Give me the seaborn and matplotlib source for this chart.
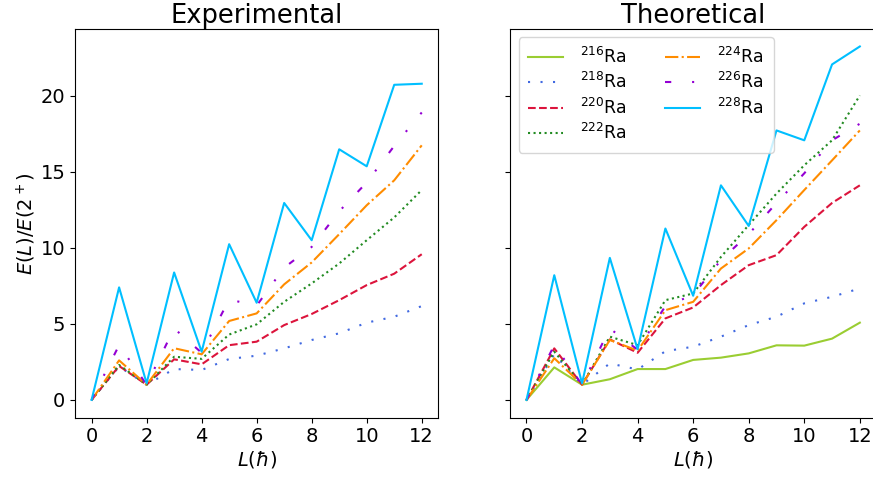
import numpy as np
import pandas as pd
import matplotlib
matplotlib.use("Agg")
import matplotlib.pyplot as plt
import seaborn as sns

L = list(range(13))
isotopes = ["216", "218", "220", "222", "224", "226", "228"]

# Experimental E(L)/E(2+)
exp_218 = [0, 2.2, 1.0, 2.03, 1.97, 2.69, 2.91, 3.39, 3.94, 4.38, 5.08, 5.47, 6.17]
exp_220 = [0, 2.23, 1.0, 2.67, 2.34, 3.6, 3.83, 4.92, 5.65, 6.56, 7.55, 8.3, 9.58]
exp_222 = [0, 2.3, 1.0, 2.84, 2.7, 4.3, 4.97, 6.45, 7.66, 8.97, 10.5, 12.0, 13.8]
exp_224 = [0, 2.6, 1.0, 3.4, 3.0, 5.19, 5.69, 7.6, 9.04, 10.9, 12.8, 14.44, 16.74]
exp_226 = [0, 3.6, 1.0, 4.7, 3.1, 6.6, 6.2, 8.7, 10.06, 12.4, 14.3, 16.7, 18.9]
exp_228 = [0, 7.4, 1.09, 8.38, 3.17, 10.24, 6.39, 12.95, 10.5, 16.48, 15.36, 20.72, 20.79]

# Theoretical E(L)/E(2+)
th_216 = [0, 2.14, 1.0, 1.36, 2.03, 2.03, 2.63, 2.78, 3.06, 3.59, 3.57, 4.03, 5.08]
th_218 = [0, 3.0, 1.0, 2.4, 2.0, 3.2, 3.5, 4.16, 4.92, 5.47, 6.35, 6.78, 7.33]
th_220 = [0, 3.39, 1.0, 3.98, 3.1, 5.36, 6.08, 7.55, 8.86, 9.52, 11.38, 12.95, 14.11]
th_222 = [0, 3.17, 1.0, 4.16, 3.6, 6.56, 7.0, 9.4, 11.5, 13.57, 15.43, 17.07, 20.02]
th_224 = [0, 2.74, 1.0, 3.94, 3.24, 5.9, 6.45, 8.64, 9.96, 11.82, 13.8, 15.75, 17.72]
th_226 = [0, 3.6, 1.0, 4.7, 3.3, 6.17, 6.9, 9.2, 10.9, 12.95, 14.9, 17.07, 18.16]
th_228 = [0, 8.2, 1.09, 9.34, 3.33, 11.27, 6.85, 14.11, 11.44, 17.72, 17.07, 22.06, 23.24]

exp_data = {"218": exp_218, "220": exp_220, "222": exp_222,
            "224": exp_224, "226": exp_226, "228": exp_228}
th_data = {"216": th_216, "218": th_218, "220": th_220, "222": th_222,
           "224": th_224, "226": th_226, "228": th_228}

colors = {"216": "#9acd32", "218": "#4169e1", "220": "#dc143c", "222": "#228b22",
          "224": "#ff8c00", "226": "#9400d3", "228": "#00bfff"}
styles = {"216": "-", "218": (0, (1, 5)), "220": "--", "222": ":",
          "224": "-.", "226": (0, (3, 10, 1, 10)), "228": "-"}

fig = plt.figure(figsize=(8.73, 4.8), dpi=100)
ax1 = fig.add_axes([0.086, 0.13, 0.416, 0.81])
ax2 = fig.add_axes([0.584, 0.13, 0.42, 0.81], sharey=ax1)

for iso, vals in exp_data.items():
    df = pd.DataFrame({"L": L, "R": vals})
    sns.lineplot(data=df, x="L", y="R", ax=ax1, color=colors[iso],
                 linestyle=styles[iso], linewidth=1.5)

for iso, vals in th_data.items():
    df = pd.DataFrame({"L": L, "R": vals})
    sns.lineplot(data=df, x="L", y="R", ax=ax2, color=colors[iso],
                 linestyle=styles[iso], linewidth=1.5,
                 label=r"$^{%s}$Ra" % iso)

for ax, title in [(ax1, "Experimental"), (ax2, "Theoretical")]:
    ax.set_title(title, fontsize=18.5, pad=4)
    ax.set_xlabel(r"$L(\hbar)$", fontsize=14, labelpad=2)
    ax.set_xticks([0, 2, 4, 6, 8, 10, 12])
    ax.set_yticks([0, 5, 10, 15, 20])
    ax.tick_params(labelsize=14)

ax1.set_ylabel(r"$E(L)/E(2^+)$", fontsize=14, labelpad=2)
ax2.set_ylabel("")
ax2.tick_params(axis="y", labelleft=False)

ax2.legend(loc="upper left", ncol=2, fontsize=12.5, handlelength=2.0,
           handletextpad=1.0, borderpad=0.55,
           borderaxespad=0.5, columnspacing=2.2, labelspacing=0.3)

fig.savefig("out.png", dpi=100)
